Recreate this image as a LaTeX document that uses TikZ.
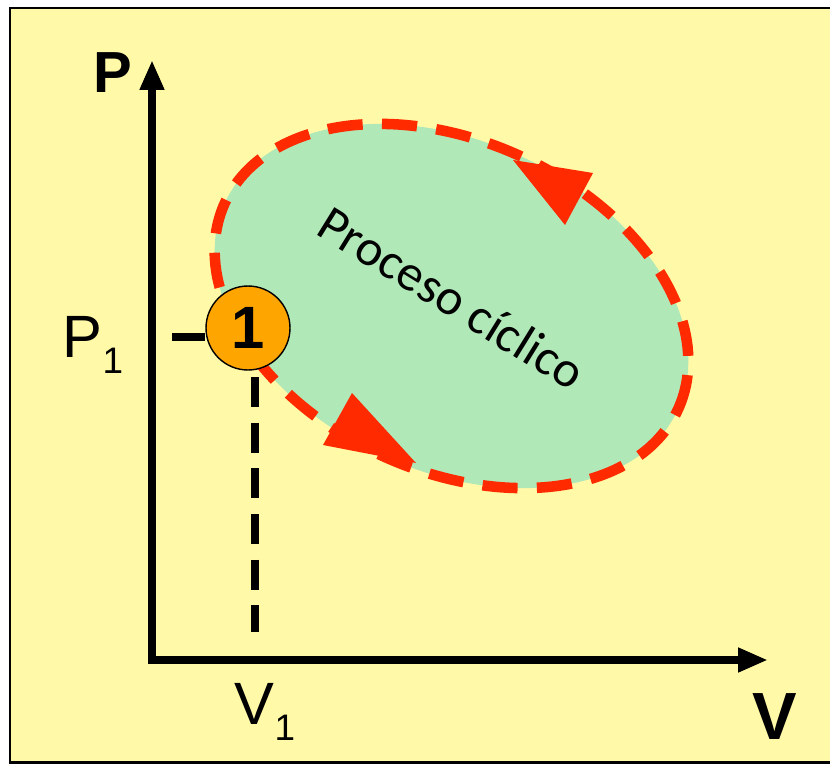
\documentclass[tikz,border=0pt]{standalone}
\usepackage{fontspec}
\setmainfont{Liberation Sans}
\newfontfamily\calibfont{Carlito}
\usepackage{tikz}
\usetikzlibrary{arrows.meta}
\definecolor{paleyellow}{HTML}{FFF9A8}
\definecolor{mintgreen}{HTML}{B0E8B8}
\definecolor{cyclered}{HTML}{FF2A00}
\definecolor{stateorange}{HTML}{FFA500}
\newcommand{\lowsub}[1]{\raisebox{-9pt}{\fontsize{21}{21}\selectfont #1}}

\begin{document}
\begin{tikzpicture}[x=0.02cm, y=0.02cm,
  axis/.style={line width=5pt, line join=miter,
    {Triangle[width=13pt,length=17pt]}-{Triangle[width=13pt,length=17pt]}},
  guide/.style={line width=4.5pt, dash pattern=on 17pt off 9pt},
  subfont/.style={font=\fontsize{34}{34}\selectfont}]
\useasboundingbox (0,0) rectangle (830,765);

% panel
\fill[paleyellow] (10,3) rectangle (830,757);
\draw[line width=1.7pt] (830,757) -- (10,757) -- (10,3) -- (830,3);

% cycle
\coordinate (cyc) at (451.5,459);
\draw[fill=mintgreen, draw=cyclered, line width=6pt, dash pattern=on 20pt off 11pt,
  rotate around={-24.4:(cyc)}] (cyc) ellipse (249 and 165);
\fill[cyclered] (416,302) -- (352,372) -- (323,320) -- cycle;
\fill[cyclered] (513,605) -- (593,592) -- (565,540) -- cycle;
\node[font=\calibfont\fontsize{29}{29}\selectfont, rotate=-31.7] (name) at (452,467) {Proceso cíclico};

% axes
\coordinate (O) at (152,105);
\coordinate (ptop) at (152,705);
\coordinate (vend) at (768,105);
\draw[axis] (ptop) -- (O) -- (vend);
\node[font=\bfseries\fontsize{33}{33}\selectfont] (plab) at (113,692) {P};
\node[font=\bfseries\fontsize{38}{38}\selectfont] (vlab) at (775,48) {V};

% state 1
\node[circle, draw, line width=0.8pt, fill=stateorange, minimum size=1.68cm, inner sep=0pt,
  font=\bfseries\fontsize{34}{34}\selectfont] (st1) at (248,437) {1};
\coordinate (ptick) at (172,428);
\draw[line width=4.5pt] (ptick) -- (ptick -| st1.west);
\coordinate (vtop) at (255,388);
\coordinate (vbot) at (255,133);
\draw[guide] (vtop) -- (vbot);
\node[subfont] (p1lab) at (93,420) {P\lowsub{1}};
\node[subfont] (v1lab) at (265,53) {V\lowsub{1}};
\end{tikzpicture}
\end{document}
